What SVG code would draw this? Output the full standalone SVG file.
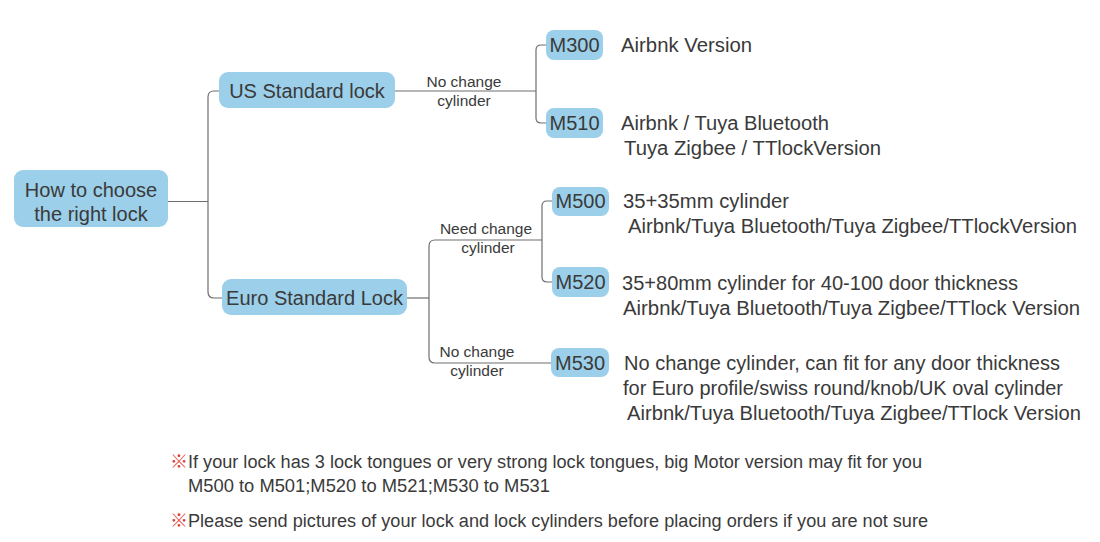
<svg xmlns="http://www.w3.org/2000/svg" width="1100" height="542" viewBox="0 0 1100 542">
<style>
text{font-family:"Liberation Sans",Arial,sans-serif;fill:#3a3a3a}
.box{fill:#9ccfe9}
.big{font-size:20px}
.lbl{font-size:15.5px;text-anchor:middle}
.mid{text-anchor:middle}
.foot{font-size:18px}
.mark{fill:#e0403a;font-family:"Noto Sans CJK SC","Liberation Sans",sans-serif}
.conn path{fill:none;stroke:#6e6e6e;stroke-width:1.2}
</style>
<rect width="1100" height="542" fill="#ffffff"/>
<g class="conn" id="connectors">
<path d="M168 201.5 H208"/>
<path d="M219 91 H214 Q208 91 208 97 V292 Q208 298 214 298 H222"/>
<path d="M395 91 H536"/>
<path d="M546 45 H541 Q536 45 536 50 V118 Q536 123 541 123 H546"/>
<path d="M407 298 H429"/>
<path d="M542 240 H435 Q429 240 429 246 V357 Q429 363 435 363 H551"/>
<path d="M552 201 H547 Q542 201 542 206 V277 Q542 282 547 282 H552"/>
</g>
<g id="edge-labels">
<text class="lbl" x="464" y="87">No change</text>
<text class="lbl" x="464" y="106">cylinder</text>
<text class="lbl" x="486" y="234">Need change</text>
<text class="lbl" x="488" y="253">cylinder</text>
<text class="lbl" x="477" y="357">No change</text>
<text class="lbl" x="477" y="376">cylinder</text>
</g>
<g id="root">
<rect class="box" x="14" y="170" width="154" height="57" rx="9"/>
<text class="big mid" x="91" y="197">How to choose</text>
<text class="big mid" x="91" y="221">the right lock</text>
</g>
<g id="us">
<rect class="box" x="219" y="72" width="176" height="36" rx="9"/>
<text class="big mid" x="307" y="98">US Standard lock</text>
</g>
<g id="euro">
<rect class="box" x="222" y="279" width="185" height="36" rx="9"/>
<text class="big mid" x="314.5" y="305">Euro Standard Lock</text>
</g>
<g id="m300">
<rect class="box" x="546" y="30" width="57" height="30" rx="8"/>
<text class="big mid" x="574.5" y="52">M300</text>
<text class="big" x="621" y="52" textLength="131" lengthAdjust="spacingAndGlyphs">Airbnk Version</text>
</g>
<g id="m510">
<rect class="box" x="546" y="108" width="57" height="30" rx="8"/>
<text class="big mid" x="574.5" y="130">M510</text>
<text class="big" x="621" y="130" textLength="208" lengthAdjust="spacingAndGlyphs">Airbnk / Tuya Bluetooth</text>
<text class="big" x="624" y="155" textLength="257" lengthAdjust="spacingAndGlyphs">Tuya Zigbee / TTlockVersion</text>
</g>
<g id="m500">
<rect class="box" x="552" y="187" width="57" height="29" rx="8"/>
<text class="big mid" x="580.5" y="208">M500</text>
<text class="big" x="623" y="208" textLength="166" lengthAdjust="spacingAndGlyphs">35+35mm cylinder</text>
<text class="big" x="628" y="233" textLength="449" lengthAdjust="spacingAndGlyphs">Airbnk/Tuya Bluetooth/Tuya Zigbee/TTlockVersion</text>
</g>
<g id="m520">
<rect class="box" x="552" y="267" width="57" height="30" rx="8"/>
<text class="big mid" x="580.5" y="289">M520</text>
<text class="big" x="622" y="290" textLength="396" lengthAdjust="spacingAndGlyphs">35+80mm cylinder for 40-100 door thickness</text>
<text class="big" x="623" y="315" textLength="457" lengthAdjust="spacingAndGlyphs">Airbnk/Tuya Bluetooth/Tuya Zigbee/TTlock Version</text>
</g>
<g id="m530">
<rect class="box" x="551" y="348" width="58" height="29" rx="8"/>
<text class="big mid" x="580" y="370">M530</text>
<text class="big" x="624" y="370" textLength="436" lengthAdjust="spacingAndGlyphs">No change cylinder, can fit for any door thickness</text>
<text class="big" x="623" y="395" textLength="440" lengthAdjust="spacingAndGlyphs">for Euro profile/swiss round/knob/UK oval cylinder</text>
<text class="big" x="627" y="420" textLength="454" lengthAdjust="spacingAndGlyphs">Airbnk/Tuya Bluetooth/Tuya Zigbee/TTlock Version</text>
</g>
<g id="notes">
<text class="foot" x="170" y="468"><tspan class="mark">※</tspan><tspan x="188" textLength="734" lengthAdjust="spacingAndGlyphs">If your lock has 3 lock tongues or very strong lock tongues, big Motor version may fit for you</tspan></text>
<text class="foot" x="188" y="492" textLength="362" lengthAdjust="spacingAndGlyphs">M500 to M501;M520 to M521;M530 to M531</text>
<text class="foot" x="170" y="527"><tspan class="mark">※</tspan><tspan x="188" textLength="740" lengthAdjust="spacingAndGlyphs">Please send pictures of your lock and lock cylinders before placing orders if you are not sure</tspan></text>
</g>
</svg>
